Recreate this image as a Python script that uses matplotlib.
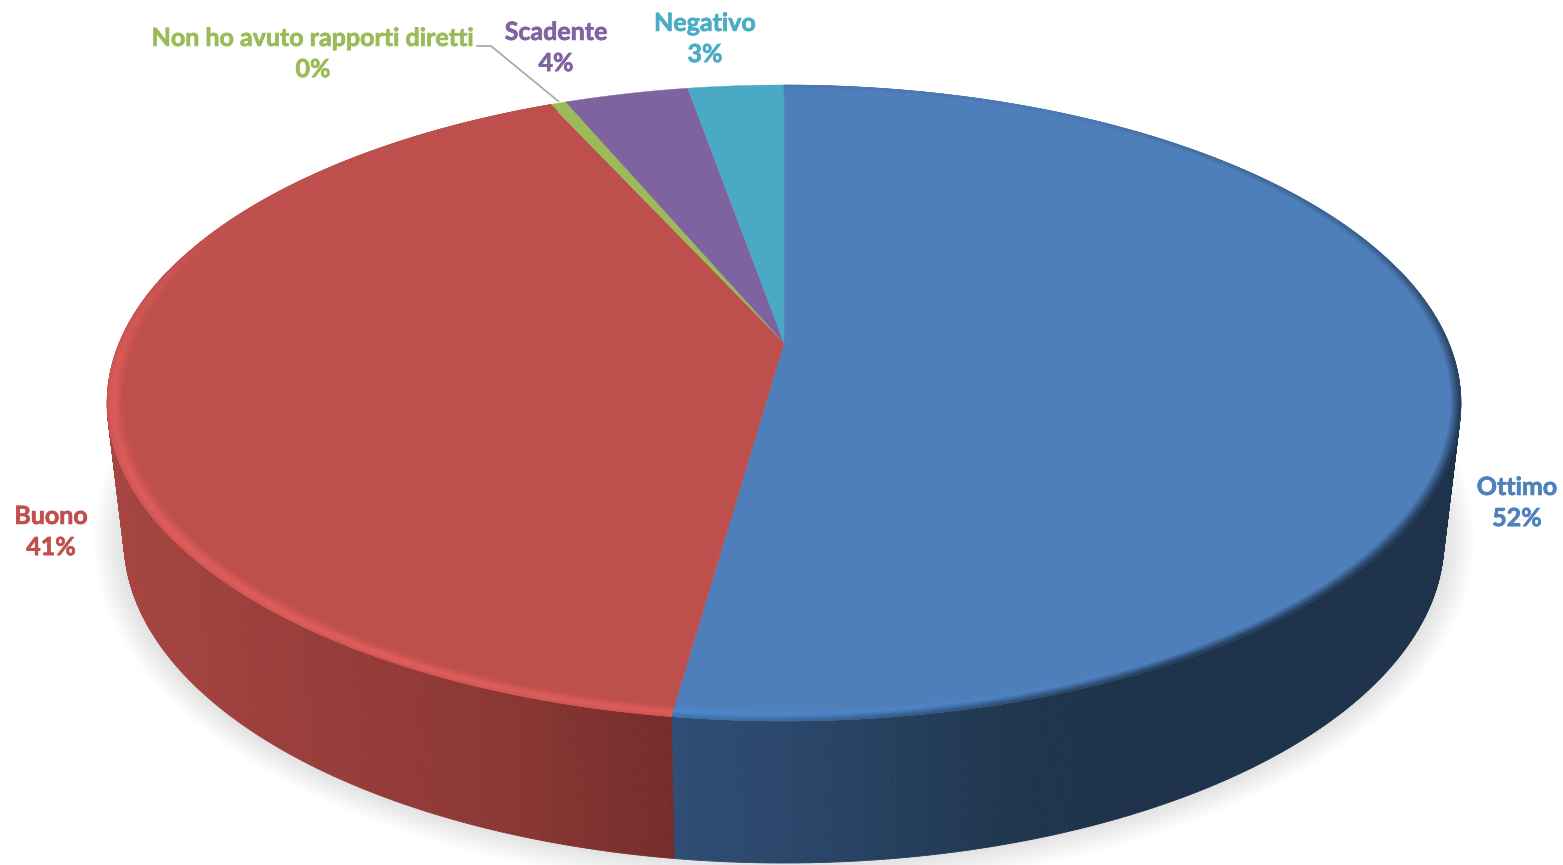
import numpy as np
import matplotlib
matplotlib.use("Agg")
import matplotlib.pyplot as plt
import matplotlib.patheffects as pe
from matplotlib.collections import PolyCollection
from matplotlib.colors import to_rgb

categories = ["Ottimo", "Buono", "Non ho avuto rapporti diretti", "Scadente", "Negativo"]
shares = [52.2, 41.05, 0.45, 3.55, 2.75]
pct_labels = ["52%", "41%", "0%", "4%", "3%"]
face_colors = ["#4e7fba", "#bd4f4c", "#9bbb59", "#7f62a0", "#4aa9c4"]
text_colors = ["#4f81bd", "#c0504d", "#9bbb59", "#8064a2", "#4bacc6"]
label_xy = [(1517, 503), (51, 532), (313, 54), (556, 48), (705, 39)]

WIDTH, HEIGHT = 1563, 865
CX = 784
K = 0.1893
TOP = dict(cy=403, a=664.6, b=318)
BOTTOM = dict(cy=540, a=648, b=323)


def project(theta, r, cy, a, b):
    # clockwise angle from the top of the disc -> pixel position, with perspective
    xx = r * np.sin(theta)
    yy = r * np.cos(theta)
    w = 1 + K * yy
    return CX + a * xx / w, cy - (b * yy + K * b) / w


def mix(c1, c2, f):
    c1, c2 = np.array(to_rgb(c1)), np.array(to_rgb(c2))
    f = np.clip(f, 0, 1)
    return c1 + (c2 - c1) * f


fig = plt.figure(figsize=(WIDTH / 100, HEIGHT / 100), dpi=100)
ax = fig.add_axes([0, 0, 1, 1])
ax.set_xlim(0, WIDTH)
ax.set_ylim(HEIGHT, 0)
ax.axis("off")

edges = np.deg2rad(np.concatenate([[0], np.cumsum(shares)]) * 3.6)

# soft shadow under the disc
tt = np.linspace(0, 2 * np.pi, 400)
for d in np.linspace(30, 0, 30):
    sx = CX + (661 + d) * np.sin(tt)
    sy = 540 + (323 + d * 0.9) * np.cos(tt)
    ax.fill(sx, sy, color="k", alpha=0.0045, lw=0, zorder=1)

# side wall, shaded by horizontal position
wall_x = [[674, 800, 1000, 1100, 1450], [125, 300, 500, 674]]
wall_c = [["#2f4d75", "#2a4669", "#203750", "#1e324b", "#1e324b"],
          ["#a64541", "#9a3e3b", "#8c3835", "#752d2b"]]
for i in range(2):
    th = np.linspace(edges[i], edges[i + 1], 500)
    th = th[(th > np.pi * 0.42) & (th < np.pi * 1.58)]
    x1, y1 = project(th, 1, **TOP)
    x2, y2 = project(th, 1, **BOTTOM)
    quads, cols = [], []
    for j in range(len(th) - 1):
        quads.append([(x1[j], y1[j]), (x1[j + 1], y1[j + 1]), (x2[j + 1], y2[j + 1]), (x2[j], y2[j])])
        xm = (x2[j] + x2[j + 1]) / 2
        cols.append([np.interp(xm, wall_x[i], [to_rgb(c)[n] for c in wall_c[i]]) for n in range(3)])
    ax.add_collection(PolyCollection(quads, facecolors=cols, edgecolors=cols, linewidths=0.6, zorder=2))

# top face
for i in range(len(shares)):
    th = np.linspace(edges[i], edges[i + 1], 300)
    x, y = project(th, 1, **TOP)
    ax.fill(np.r_[CX, x], np.r_[project(0.0, 0, **TOP)[1], y], color=face_colors[i], lw=0.3, zorder=3)


# bevel on the rim of the two large slices
def rim_strength(i, th):
    deg = np.rad2deg(th)
    if i == 1:
        return np.interp(deg, [187, 215, 265, 285, 305], [0.9, 1.0, 0.8, 0.35, 0.0]), "#e05e5b"
    return np.interp(deg, [100, 140, 165, 188], [0.0, 0.0, 0.35, 0.75]), "#4f93e0"


rr = np.linspace(0.965, 1.0, 16)
for i in range(2):
    th = np.linspace(edges[i], edges[i + 1], 400)
    for n in range(len(rr) - 1):
        rm = (rr[n] + rr[n + 1]) / 2
        x1, y1 = project(th, rr[n], **TOP)
        x2, y2 = project(th, rr[n + 1], **TOP)
        profile = np.exp(-((rm - 0.992) / 0.011) ** 2)
        strength, hi = rim_strength(i, th)
        quads, cols = [], []
        for j in range(len(th) - 1):
            col = mix(face_colors[i], hi, strength[j] * profile)
            if i == 0:
                # the far side of the blue slice melts into the dark wall
                deg = np.rad2deg(th[j])
                dark = np.interp(deg, [30, 70, 100, 150, 185], [0.1, 0.45, 0.95, 0.95, 0.3])
                col = mix(col, "#1e324b", dark * np.clip((rm - 0.985) / 0.015, 0, 1))
            quads.append([(x1[j], y1[j]), (x1[j + 1], y1[j + 1]), (x2[j + 1], y2[j + 1]), (x2[j], y2[j])])
            cols.append(col)
        ax.add_collection(PolyCollection(quads, facecolors=cols, edgecolors=cols, linewidths=0.4, zorder=4))

# labels
for name, pct, (lx, ly), col in zip(categories, pct_labels, label_xy, text_colors):
    ax.text(lx, ly, f"{name}\n{pct}", color=col, ha="center", va="center", family="Lato",
            weight="bold", fontsize=18, linespacing=1.43, zorder=6,
            path_effects=[pe.withStroke(linewidth=0.5, foreground=col)])

# leader line of the smallest slice
mid = (edges[2] + edges[3]) / 2
ex, ey = project(mid, 1, **TOP)
ax.plot([477, 491, ex, ex], [46, 46, ey - 2, ey - 2], color="#a6a6a6", lw=1.2, zorder=5)

fig.savefig("out.png", dpi=100)
